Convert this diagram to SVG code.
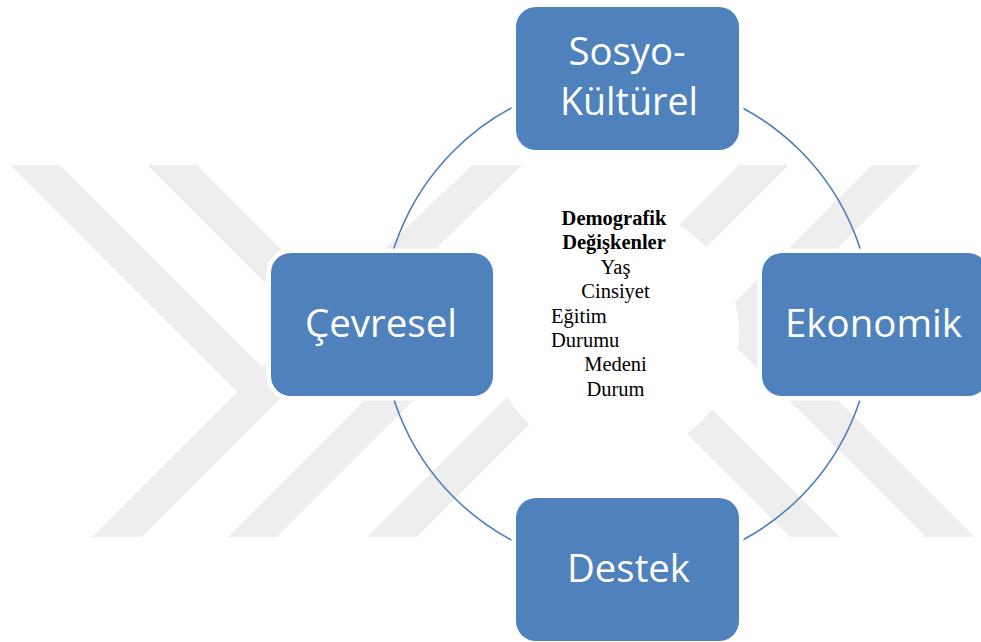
<svg xmlns="http://www.w3.org/2000/svg" width="981" height="642" viewBox="0 0 981 642">
<defs>
<style>
.wm{fill:none;stroke:#eeeeee;stroke-width:35;stroke-linejoin:miter;stroke-miterlimit:10}
.box{fill:#4f81bd;stroke:#ffffff;stroke-width:9;paint-order:stroke}
.lbl{font-family:"Open Sans","Noto Sans","Liberation Sans",sans-serif;font-size:39px;fill:#ffffff;text-anchor:middle}
.ctr{font-family:"Liberation Serif","Times New Roman",serif;font-size:20.5px;fill:#000000}
.b{font-weight:bold}
.m{text-anchor:middle}
</style>
<clipPath id="wmclip"><rect x="0" y="165" width="981" height="372"/></clipPath>
</defs>
<rect width="981" height="642" fill="#ffffff"/>
<g id="watermark" clip-path="url(#wmclip)">
<polyline class="wm" points="5,135 262,392 90,564"/>
<line class="wm" x1="262" y1="392" x2="528" y2="135"/>
<polyline class="wm" points="142,135 398,391 225,564"/>
<line class="wm" x1="794" y1="135" x2="365" y2="564"/>
<line class="wm" x1="603" y1="325" x2="842" y2="564"/>
<polyline class="wm" points="926,135 737,324 977,564"/>
</g>
<g id="connectors">
<circle cx="627" cy="324" r="245" fill="none" stroke="#4a7ebb" stroke-width="1.6"/>
</g>
<g id="center">
<circle cx="614" cy="332" r="125" fill="#ffffff"/>
<text class="ctr b m" x="614" y="225">Demografik</text>
<text class="ctr b m" x="614" y="249.4">Değişkenler</text>
<text class="ctr m" x="615.5" y="273.8">Yaş</text>
<text class="ctr m" x="615.5" y="298.2">Cinsiyet</text>
<text class="ctr" x="551" y="322.6">Eğitim</text>
<text class="ctr" x="551" y="347">Durumu</text>
<text class="ctr m" x="615.5" y="371.4">Medeni</text>
<text class="ctr m" x="615.5" y="395.8">Durum</text>
</g>
<g id="sosyo-kulturel">
<rect class="box" x="516" y="7" width="223" height="143" rx="20"/>
<text class="lbl" x="627" y="65" textLength="117" lengthAdjust="spacingAndGlyphs">Sosyo-</text>
<text class="lbl" x="629" y="115" textLength="138" lengthAdjust="spacingAndGlyphs">Kültürel</text>
</g>
<g id="cevresel">
<rect class="box" x="271" y="253" width="222" height="143" rx="20"/>
<text class="lbl" x="381" y="337" textLength="152" lengthAdjust="spacingAndGlyphs">Çevresel</text>
</g>
<g id="ekonomik">
<rect class="box" x="762" y="253" width="226" height="143" rx="20"/>
<text class="lbl" x="873.5" y="337" textLength="177" lengthAdjust="spacingAndGlyphs">Ekonomik</text>
</g>
<g id="destek">
<rect class="box" x="516" y="498" width="223" height="143" rx="20"/>
<text class="lbl" x="628.5" y="582" textLength="123" lengthAdjust="spacingAndGlyphs">Destek</text>
</g>
</svg>
